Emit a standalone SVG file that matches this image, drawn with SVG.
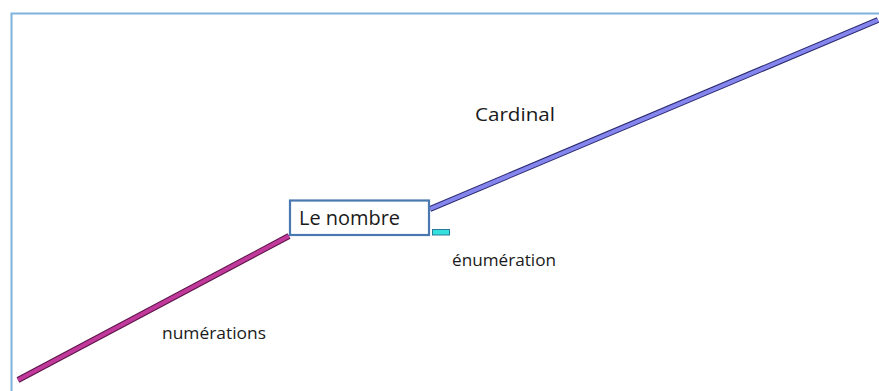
<svg xmlns="http://www.w3.org/2000/svg" width="879" height="391" viewBox="0 0 879 391">
<style>
.lbl{font-family:"Open Sans","Noto Sans","Liberation Sans",sans-serif;fill:#1a1a1a}
.bar{stroke-linecap:butt}
</style>
<rect width="879" height="391" fill="#ffffff"/>
<rect x="11.5" y="13.5" width="880" height="400" fill="none" stroke="#7fb2dc" stroke-width="2"/>
<g id="connectors">
<line class="bar" x1="18" y1="380" x2="289" y2="236" stroke="#5a1448" stroke-width="6"/>
<line class="bar" x1="18" y1="380" x2="289" y2="236" stroke="#c1399b" stroke-width="4"/>
<line class="bar" x1="430" y1="209" x2="878" y2="20" stroke="#2a2a70" stroke-width="6"/>
<line class="bar" x1="430" y1="209" x2="878" y2="20" stroke="#8585ee" stroke-width="4"/>
<rect x="432.5" y="229.5" width="17" height="5.5" fill="#33e0dc" stroke="#2a7a9a" stroke-width="1"/>
</g>
<g id="node-le-nombre">
<rect x="290" y="200.5" width="139" height="34.5" fill="#ffffff" stroke="#4a78b0" stroke-width="2.2"/>
<text class="lbl" x="299" y="225" font-size="19.5" textLength="101" lengthAdjust="spacingAndGlyphs">Le nombre</text>
</g>
<g id="label-cardinal">
<text class="lbl" x="475" y="121" font-size="19" textLength="80" lengthAdjust="spacingAndGlyphs">Cardinal</text>
</g>
<g id="label-enumeration">
<text class="lbl" x="452" y="266" font-size="16.5" textLength="104" lengthAdjust="spacingAndGlyphs">énumération</text>
</g>
<g id="label-numerations">
<text class="lbl" x="162" y="339" font-size="16.5" textLength="104" lengthAdjust="spacingAndGlyphs">numérations</text>
</g>
</svg>
